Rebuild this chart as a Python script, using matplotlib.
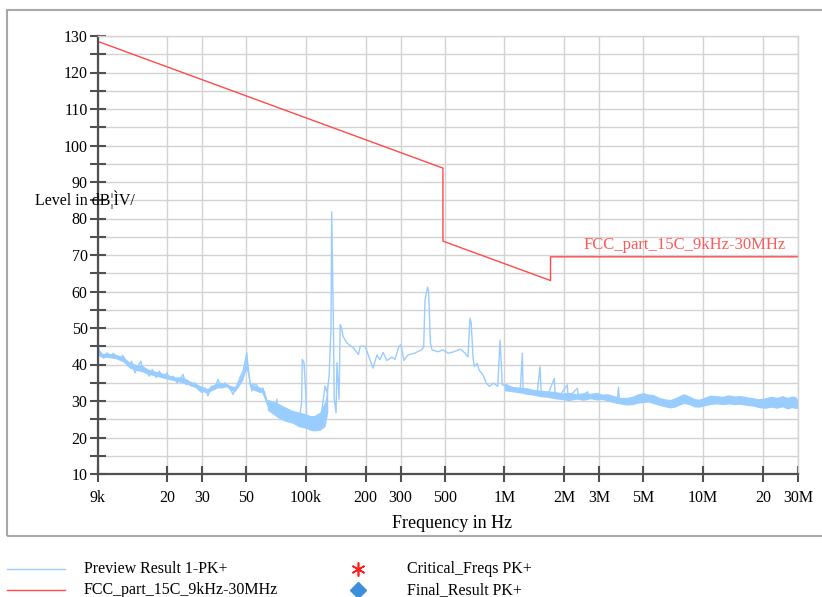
"""
EMI conducted emission scan (9 kHz - 30 MHz) against FCC part 15C limit.
"""

import matplotlib
matplotlib.use("Agg")
import matplotlib.pyplot as plt
from matplotlib.lines import Line2D
from matplotlib.patches import Rectangle
from matplotlib.ticker import FixedLocator, NullFormatter

plt.rcParams['font.family'] = ['Liberation Serif', 'DejaVu Serif']

# ---- data -------------------------------------------------------------
# preview scan, peak detector (frequency in kHz, level in dBuV)
scan_khz = [
    9.0, 9.2, 9.6, 10.0, 10.3, 10.7, 11.2, 11.6, 12.0, 12.6, 12.8, 13.3,
    13.8, 14.3, 14.8, 15.1, 15.6, 16.3, 16.9, 17.7, 18.3, 19.1, 20.0, 20.8,
    21.5, 22.5, 23.3, 24.1, 25.0, 25.6, 26.7, 27.6, 28.7, 30.0, 31.0, 32.2,
    33.5, 34.8, 36.1, 38.0, 39.1, 40.3, 42.3, 43.0, 45.0, 46.6, 48.3, 50.5,
    51.0, 52.2, 53.5, 54.3, 56.6, 58.6, 60.8, 62.8, 64.5, 67.7, 70.0, 71.5,
    72.5, 75.7, 78.5, 81.6, 85.3, 88.3, 91.8, 95.2, 96.0, 98.0, 100.3, 101.2,
    105.0, 108.6, 113.8, 118.3, 121.0, 125.0, 128.0, 131.0, 134.0, 135.0,
    137.7, 139.0, 142.0, 143.5, 147.0, 149.0, 150.5, 154.0, 161.0, 174.0,
    184.0, 188.0, 199.0, 210.0, 218.0, 228.0, 236.0, 245.0, 256.0, 271.0,
    281.0, 294.0, 301.0, 312.0, 326.0, 353.0, 382.0, 392.0, 398.0, 410.0,
    415.0, 424.0, 432.0, 462.0, 490.0, 522.0, 556.0, 600.0, 634.0, 655.0,
    670.0, 680.0, 695.0, 705.0, 728.0, 745.0, 780.0, 810.0, 840.0, 880.0,
    925.0, 950.0, 975.0, 1030.0, 1100.0, 1160.0, 1200.0, 1230.0, 1240.0,
    1350.0, 1460.0, 1510.0, 1530.0, 1650.0, 1780.0, 1800.0, 1900.0, 2070.0,
    2090.0, 2330.0, 2360.0, 2620.0, 2650.0, 3040.0, 3700.0, 3750.0, 3780.0,
    3950.0,
]
scan_db = [
    45.5, 42.7, 41.8, 43.2, 41.8, 43.0, 42.3, 41.4, 42.5, 40.5, 39.5, 40.9,
    37.7, 39.5, 40.9, 38.2, 38.6, 36.8, 38.6, 36.4, 38.2, 36.4, 37.7, 35.9,
    36.8, 35.0, 35.9, 37.3, 34.5, 35.5, 34.1, 35.0, 33.2, 32.3, 33.6, 31.4,
    34.1, 33.2, 35.9, 33.6, 35.0, 34.1, 32.7, 31.8, 34.1, 36.4, 38.2, 43.2,
    40.5, 35.9, 32.7, 34.5, 34.5, 32.3, 33.6, 30.5, 28.6, 29.5, 27.3, 30.5,
    25.9, 27.7, 25.0, 27.3, 24.5, 25.9, 23.2, 29.5, 41.4, 40.5, 30.5, 24.1,
    22.3, 24.5, 22.3, 25.0, 28.2, 34.1, 32.3, 36.8, 50.5, 81.8,
    51.4, 30.5, 26.8, 40.5, 30.5, 50.9, 50.5, 47.7, 45.9, 44.5,
    42.7, 45.0, 45.0, 41.4, 39.0, 42.6, 41.3, 43.3, 41.1, 42.0,
    41.4, 44.9, 45.4, 41.1, 42.6, 43.1, 44.0, 44.7, 57.7, 61.2,
    60.0, 45.8, 44.0, 43.5, 44.0, 43.1, 43.5, 44.2, 43.1, 42.0,
    52.7, 51.3, 41.7, 39.4, 40.3, 38.5, 37.1, 34.9, 34.0, 34.9,
    34.0, 46.7, 34.4, 34.4, 33.5, 33.0, 33.0, 43.1, 33.0,
    32.5, 32.1, 39.4, 32.1, 31.6, 36.2, 31.2, 31.5, 34.4,
    31.0, 33.5, 30.8, 32.5, 31.0, 31.2, 30.8, 33.8, 30.5,
    29.5,
]

# dense noise regions drawn as a band (kHz, lower / upper dBuV)
band0_khz = [9.0, 9.5, 10, 11, 12, 13, 14, 15, 16, 17, 18, 20, 22, 24, 26,
             28, 30, 32, 34, 36, 38, 40, 42, 44, 46, 48, 50, 51, 52, 54, 57,
             60, 62, 64]
band0_lo = [42.5, 41.8, 42.0, 41.6, 40.8, 39.0, 38.4, 38.0, 37.4, 37.0, 36.7,
            36.0, 35.5, 35.0, 34.3, 33.6, 32.6, 32.2, 33.0, 33.6, 33.6, 33.9,
            33.0, 32.6, 34.0, 35.6, 38.6, 37.6, 34.0, 33.0, 32.6, 32.3, 30.6,
            28.6]
band0_hi = [44.5, 43.0, 43.2, 42.8, 42.2, 40.6, 40.0, 39.8, 38.8, 38.3, 38.0,
            37.3, 36.6, 36.6, 35.5, 34.8, 34.0, 33.4, 34.4, 35.2, 35.0, 34.8,
            34.2, 34.0, 35.8, 37.8, 42.0, 40.2, 35.4, 34.4, 34.2, 33.5, 32.8,
            30.0]

band1_khz = [64.0, 68.0, 72.0, 78.0, 85.0, 92.0, 100.0, 105.0, 110.0, 118.0, 125.0, 129.0]
band1_lo = [27.5, 26.5, 25.5, 24.5, 24.0, 23.0, 22.5, 22.0, 21.8, 22.0, 23.0, 27.0]
band1_hi = [30.5, 30.0, 29.5, 28.5, 27.5, 27.0, 26.5, 26.0, 26.0, 27.0, 30.0, 35.0]

band2_khz = [1000, 1100, 1200, 1300, 1400, 1500, 1650, 1800, 1950, 2100, 2300,
             2500, 2700, 2900, 3100, 3300, 3500, 3800, 4100, 4400, 4700, 5000,
             5300, 5600, 6000, 6400, 6800, 7200, 7600, 8000, 8500, 9000, 9500,
             10000, 10800, 11600, 12500, 13400, 14300, 15300, 16500, 17800,
             19000, 20500, 22000, 23500, 25000, 26500, 28000, 29200, 30000]
band2_lo = [32.8, 32.5, 32.2, 31.8, 31.6, 31.2, 31.0, 30.6, 30.4, 30.1, 30.5,
            30.2, 30.6, 30.3, 30.4, 30.0, 29.6, 29.2, 28.9, 29.0, 29.4, 29.6,
            29.7, 29.3, 28.8, 28.4, 28.1, 28.3, 28.9, 29.3, 29.0, 28.4, 28.3,
            28.6, 29.0, 29.2, 29.0, 29.2, 29.0, 29.1, 28.8, 28.6,
            28.2, 28.0, 28.3, 28.0, 28.4, 27.8, 28.2, 27.9, 28.1]
band2_hi = [34.8, 34.0, 33.8, 33.6, 33.2, 33.0, 32.8, 32.6, 32.2, 32.4, 32.0,
            32.3, 32.1, 32.4, 31.9, 32.0, 31.6, 31.0, 31.0, 31.3, 32.0, 32.3,
            31.9, 31.8, 31.0, 30.6, 30.4, 30.9, 31.5, 32.0, 31.4, 30.7, 30.5,
            30.9, 31.6, 31.5, 31.3, 31.7, 31.4, 31.5, 31.2, 30.9,
            30.6, 30.9, 31.3, 31.0, 31.5, 31.0, 31.4, 31.2, 30.3]

# FCC part 15.209 limit, recalculated to 3 m (kHz, dBuV)
limit_khz = [9, 490, 490, 1705, 1705, 30000]
limit_db = [128.5, 93.8, 73.8, 63.0, 69.5, 69.5]

xtick_khz = [9, 20, 30, 50, 100, 200, 300, 500, 1000, 2000, 3000, 5000, 10000, 20000, 30000]
xtick_labels = ['9k', '20', '30', '50', '100k', '200', '300', '500',
                '1M', '2M', '3M', '5M', '10M', '20', '30M']

TRACE_COLOR = '#99CCFF'
LIMIT_COLOR = '#FF4A4A'
AXIS_COLOR = '#505050'
GRID_COLOR = '#D2D2D2'

W, H = 822, 597


def fx(px):
    return px / W


def fy(py):
    return 1 - py / H


fig = plt.figure(figsize=(W / 100, H / 100), dpi=100)
ax = fig.add_axes([fx(98), fy(474), fx(798) - fx(98), fy(36) - fy(474)])

to_hz = lambda vals: [v * 1e3 for v in vals]

for bx, blo, bhi in [(band0_khz, band0_lo, band0_hi),
                     (band1_khz, band1_lo, band1_hi),
                     (band2_khz, band2_lo, band2_hi)]:
    ax.fill_between(to_hz(bx), blo, bhi, color=TRACE_COLOR, lw=0)
ax.plot(to_hz(scan_khz), scan_db, color=TRACE_COLOR, lw=1.0)
ax.plot(to_hz(limit_khz), limit_db, color=LIMIT_COLOR, lw=1.0)

ax.text(26e6, 70.6, 'FCC_part_15C_9kHz-30MHz', color='#FF5A5A',
        fontsize=12, ha='right', va='bottom')

ax.set_xscale('log')
ax.set_xlim(9e3, 30e6)
ax.set_ylim(10, 130)

ax.xaxis.set_major_locator(FixedLocator(to_hz(xtick_khz)))
ax.xaxis.set_minor_locator(FixedLocator([]))
ax.set_xticklabels(xtick_labels)
ax.set_yticks(range(10, 131, 10))
ax.yaxis.set_minor_locator(FixedLocator(range(15, 130, 10)))
ax.yaxis.set_minor_formatter(NullFormatter())

ax.grid(True, which='both', color=GRID_COLOR, lw=1)
ax.set_axisbelow(True)

for side in ['left', 'bottom']:
    ax.spines[side].set_color(AXIS_COLOR)
    ax.spines[side].set_linewidth(1.6)
for side in ['top', 'right']:
    ax.spines[side].set_color(GRID_COLOR)
    ax.spines[side].set_linewidth(1)

ax.tick_params(which='both', direction='inout', length=11, width=1.5,
               color=AXIS_COLOR, labelsize=11.5)
ax.tick_params(axis='x', pad=6)
ax.tick_params(axis='y', pad=2)

fig.text(fx(35), fy(200), 'Level in dB¦ÌV/', fontsize=11.5, va='center', ha='left')
fig.text(fx(452), fy(523), 'Frequency in Hz', fontsize=13, va='center', ha='center')

# outer frame
fig.add_artist(Rectangle((fx(7), fy(536)), 1.0, fy(10) - fy(536),
                         transform=fig.transFigure, fill=False,
                         edgecolor='#A8A8A8', lw=1.5))

# legend below the frame
leg_rows = [
    (fx(7), fy(569), 'Preview Result 1-PK+', dict(color=TRACE_COLOR, lw=1)),
    (fx(7), fy(590), 'FCC_part_15C_9kHz-30MHz', dict(color=LIMIT_COLOR, lw=1)),
]
for x0, y0, label, style in leg_rows:
    fig.add_artist(Line2D([x0, fx(65)], [y0, y0], transform=fig.transFigure, **style))
    fig.text(fx(84), y0, label, fontsize=11.5, va='center', ha='left')

fig.add_artist(Line2D([fx(358)], [fy(569)], transform=fig.transFigure, ls='none',
                      marker=(6, 2, 0), markersize=10, mec='#FF2020', mew=1.2))
fig.text(fx(407), fy(569), 'Critical_Freqs PK+', fontsize=11.5, va='center', ha='left')
fig.add_artist(Line2D([fx(358)], [fy(590)], transform=fig.transFigure, ls='none',
                      marker='D', markersize=8, mfc='#3D8FDB', mec='#3D8FDB'))
fig.text(fx(407), fy(590), 'Final_Result PK+', fontsize=11.5, va='center', ha='left')

fig.savefig('out.png', dpi=100)
